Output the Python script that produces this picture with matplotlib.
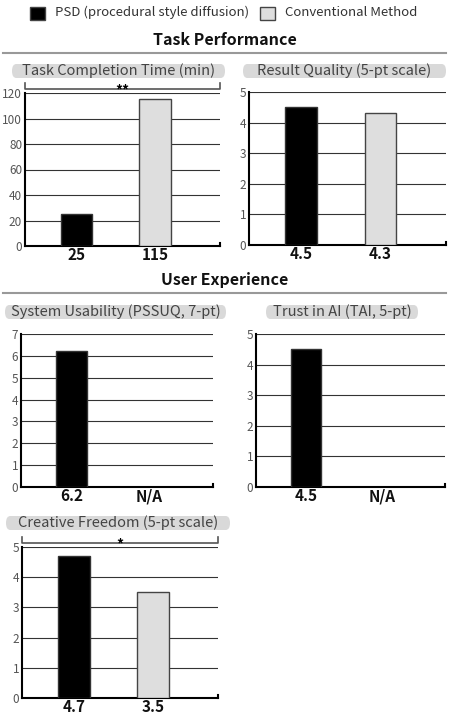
import matplotlib.pyplot as plt
from matplotlib.patches import FancyBboxPatch, Rectangle
from matplotlib.lines import Line2D

plt.rcParams['font.family'] = ['Noto Sans CJK SC', 'DejaVu Sans']

W, H = 449, 719

methods = ['PSD (procedural style diffusion)', 'Conventional Method']
colors = ['#000000', '#dedede']

titles = ['Task Completion Time (min)', 'Result Quality (5-pt scale)',
          'System Usability (PSSUQ, 7-pt)', 'Trust in AI (TAI, 5-pt)',
          'Creative Freedom (5-pt scale)']
psd = [25, 4.5, 6.2, 4.5, 4.7]
conv = [115, 4.3, None, None, 3.5]
psd_labels = ['25', '4.5', '6.2', '4.5', '4.7']
conv_labels = ['115', '4.3', 'N/A', 'N/A', '3.5']
ymax = [120, 5, 7, 5, 5]
ystep = [20, 1, 1, 1, 1]
signif = ['**', '', '', '', '*']

# panel boxes in pixels: left, top, right, bottom of the plot area
boxes = [(25, 93, 220, 246), (249, 92, 446, 245),
         (21, 334, 213, 487), (256, 334, 445, 487),
         (22, 547, 218, 698)]
# title pill: left, right, center y
pills = [(12, 225, 71), (243, 446, 71), (5, 226, 312), (266, 418, 312), (6, 230, 523)]

fig = plt.figure(figsize=(W / 100, H / 100), dpi=100)


def fx(x):
    return x / W


def fy(y):
    return 1 - y / H


# legend
for i, (name, c) in enumerate(zip(methods, colors)):
    x0 = [30, 260][i]
    fig.patches.append(Rectangle((fx(x0), fy(20)), fx(15), 13 / H, transform=fig.transFigure,
                                 facecolor=c, edgecolor='#444444', lw=1))
    fig.text(fx(x0 + 25), fy(12.5), name, fontsize=9.5, color='#333333', va='center', ha='left')

# section headers
for label, ty, ly in [('Task Performance', 40, 53), ('User Experience', 280, 293)]:
    fig.text(0.5, fy(ty), label, fontsize=11.5, fontweight='bold', ha='center', va='center', color='#111111')
    fig.add_artist(Line2D([fx(3), fx(446)], [fy(ly), fy(ly)], color='#999999', lw=1.5))

for i in range(len(titles)):
    l, t, r, b = boxes[i]
    ax = fig.add_axes([fx(l), fy(b), fx(r - l), (b - t) / H])
    x = [0, 1]
    ax.bar(0, psd[i], width=0.4, color=colors[0], edgecolor='#333333', lw=1, zorder=3)
    if conv[i] is not None:
        ax.bar(1, conv[i], width=0.4, color=colors[1], edgecolor='#444444', lw=1, zorder=3)
    ax.set_xlim(-0.655, 1.826)
    ax.set_ylim(0, ymax[i])
    ax.set_yticks(range(0, ymax[i] + 1, ystep[i]))
    ax.yaxis.grid(True, color='#333333', lw=0.8, zorder=0)
    ax.set_xticks(x)
    ax.set_xticklabels([psd_labels[i], conv_labels[i]], fontsize=11, fontweight='bold', color='#111111')
    ax.tick_params(axis='x', length=0, pad=1)
    ax.tick_params(axis='y', length=0, pad=2, labelsize=8.5, labelcolor='#555555')
    for s in ['top', 'right']:
        ax.spines[s].set_visible(False)
    ax.spines['left'].set_linewidth(1.5)
    ax.spines['bottom'].set_linewidth(1.5)
    ax.plot([1, 1], [0, 0.02], transform=ax.transAxes, color='black', lw=1.5, clip_on=False)

    # title pill
    pl, pr, pc = pills[i]
    ph = 14
    fig.patches.append(FancyBboxPatch((fx(pl), fy(pc + ph / 2)), fx(pr - pl), ph / H,
                                      boxstyle='round,pad=0,rounding_size=%f' % (ph / 2 / H),
                                      mutation_aspect=1, transform=fig.transFigure,
                                      facecolor='#d9d9d9', edgecolor='none'))
    fig.text(fx((pl + pr) / 2), fy(pc), titles[i], fontsize=10.5, color='#444444', ha='center', va='center')

    if signif[i]:
        by = t - 4
        fig.add_artist(Line2D([fx(l), fx(l), fx(r), fx(r)], [fy(by - 6), fy(by), fy(by), fy(by - 6)],
                              color='#555555', lw=1.2))
        fig.text(fx((l + r) / 2), fy(by + 2), signif[i], fontsize=10, fontweight='bold',
                 ha='center', va='center')

fig.savefig('out.png', dpi=100)
